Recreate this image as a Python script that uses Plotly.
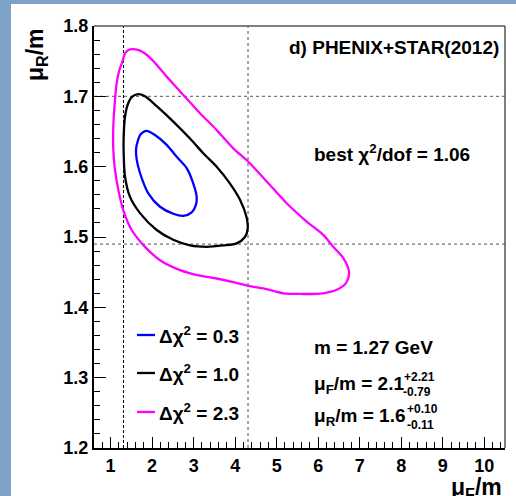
import plotly.graph_objects as go

# ---------------- data ----------------
# Delta chi^2 = 2.3 contour (magenta)
mag_muF = [1.547, 1.708, 1.949, 2.351, 2.751, 3.153, 3.555, 3.955, 4.317, 4.76, 5.241, 5.723,
           6.123, 6.364, 6.605, 6.742, 6.687, 6.486, 6.123, 5.562, 5.16, 4.76, 4.357, 3.955,
           3.555, 3.153, 2.672, 2.19, 1.829, 1.508, 1.306, 1.186, 1.106, 1.065, 1.065, 1.099,
           1.147, 1.21, 1.282, 1.347, 1.43, 1.547]
mag_muR = [1.767, 1.765, 1.755, 1.728, 1.702, 1.676, 1.652, 1.626, 1.607, 1.579, 1.548, 1.522,
           1.503, 1.486, 1.470, 1.451, 1.436, 1.426, 1.420, 1.419, 1.420, 1.426, 1.430, 1.436,
           1.441, 1.445, 1.453, 1.467, 1.486, 1.510, 1.538, 1.567, 1.595, 1.624, 1.657, 1.690,
           1.719, 1.737, 1.749, 1.761, 1.766, 1.767]
# Delta chi^2 = 1.0 contour (black)
blk_muF = [1.668, 1.829, 2.110, 2.51, 2.912, 3.233, 3.555, 3.876, 4.117, 4.27, 4.302, 4.237,
           4.037, 3.714, 3.314, 2.912, 2.51, 2.110, 1.708, 1.467, 1.347, 1.315, 1.315, 1.347,
           1.411, 1.508, 1.668]
blk_muR = [1.703, 1.700, 1.686, 1.664, 1.640, 1.619, 1.600, 1.576, 1.553, 1.529, 1.512, 1.500,
           1.491, 1.488, 1.486, 1.488, 1.496, 1.510, 1.534, 1.557, 1.586, 1.619, 1.643, 1.671,
           1.688, 1.699, 1.703]
# Delta chi^2 = 0.3 contour (blue)
blu_muF = [1.869, 2.069, 2.351, 2.592, 2.833, 2.992, 3.073, 3.057, 2.953, 2.751, 2.51, 2.19,
           1.908, 1.708, 1.629, 1.612, 1.652, 1.724, 1.869]
blu_muR = [1.651, 1.645, 1.631, 1.614, 1.598, 1.576, 1.557, 1.546, 1.535, 1.530, 1.533, 1.543,
           1.562, 1.591, 1.610, 1.624, 1.636, 1.646, 1.651]

contour_labels = ["0.3", "1.0", "2.3"]

best_muF, muF_up, muF_dn = 2.1, 2.21, 0.79
best_muR, muR_up, muR_dn = 1.6, 0.10, 0.11
mass_GeV = "1.27"
best_chi2_dof = "1.06"

x_range = [0.6, 10.5]
y_range = [1.2, 1.8]

# ---------------- layout geometry ----------------
W, H = 516, 496
L, R, T, B = 94, 505, 26, 448


def px(X):
    return (X - L) / (R - L)


def py(Y):
    return (B - Y) / (B - T)


FONT = "Liberation Sans, Arial, Helvetica, sans-serif"
BLUE_BG = "#7ea2c9"

fig = go.Figure()

# dashed best-fit bound lines
lo_F, hi_F = best_muF - muF_dn, best_muF + muF_up
lo_R, hi_R = best_muR - muR_dn, best_muR + muR_up
fig.add_trace(go.Scatter(x=[lo_F, lo_F], y=y_range, mode="lines",
                         line=dict(color="black", width=1, dash="3px,2px"),
                         showlegend=False, hoverinfo="skip"))
for xv in [hi_F]:
    fig.add_trace(go.Scatter(x=[xv, xv], y=y_range, mode="lines",
                             line=dict(color="#777777", width=1.3, dash="3px,3px"),
                             showlegend=False, hoverinfo="skip"))
for yv in [lo_R, hi_R]:
    fig.add_trace(go.Scatter(x=x_range, y=[yv, yv], mode="lines",
                             line=dict(color="#777777", width=1.3, dash="3px,3px"),
                             showlegend=False, hoverinfo="skip"))

colors = ["#0000ff", "#000000", "#ff00ff"]
for xs, ys, c in [(blu_muF, blu_muR, colors[0]), (blk_muF, blk_muR, colors[1]),
                  (mag_muF, mag_muR, colors[2])]:
    fig.add_trace(go.Scatter(x=xs, y=ys, mode="lines",
                             line=dict(color=c, width=2.3, shape="spline", smoothing=0.8),
                             showlegend=False, hoverinfo="skip"))

shapes = [
    # blue slide background strips (left and top), kept inside the page
    dict(type="rect", xref="paper", yref="paper", x0=px(0), x1=px(11), y0=py(H), y1=py(0),
         fillcolor=BLUE_BG, line=dict(width=0), layer="below"),
    dict(type="rect", xref="paper", yref="paper", x0=px(0), x1=px(W), y0=py(4), y1=py(0),
         fillcolor=BLUE_BG, line=dict(width=0), layer="below"),
    # top / right frame
    dict(type="line", xref="paper", yref="paper", x0=0, x1=1, y0=1, y1=1,
         line=dict(color="#555555", width=1.5), layer="above"),
    dict(type="line", xref="paper", yref="paper", x0=1, x1=1, y0=0, y1=1,
         line=dict(color="#555555", width=1.5), layer="above"),
]

annotations = []
# legend
leg_y = [335, 373, 412]
for lab, c, Y in zip(contour_labels, colors, leg_y):
    shapes.append(dict(type="line", xref="paper", yref="paper", x0=px(137), x1=px(155),
                       y0=py(Y), y1=py(Y), line=dict(color=c, width=2.3), layer="above"))
    annotations.append(dict(xref="paper", yref="paper", x=px(157), y=py(Y), xanchor="left",
                            yanchor="middle", showarrow=False,
                            text="<b>Δχ<sup>2</sup> = %s</b>" % lab,
                            font=dict(family=FONT, size=19, color="black")))

txt_font = dict(family=FONT, size=19, color="black")
small_font = dict(family=FONT, size=12, color="black")
annotations += [
    dict(xref="paper", yref="paper", x=px(501), y=py(47), xanchor="right", yanchor="middle",
         showarrow=False, text="<b>d) PHENIX+STAR(2012)</b>", font=txt_font),
    dict(xref="paper", yref="paper", x=px(312), y=py(153), xanchor="left", yanchor="middle",
         showarrow=False, text="<b>best χ<sup>2</sup>/dof = %s</b>" % best_chi2_dof, font=txt_font),
    dict(xref="paper", yref="paper", x=px(312), y=py(347), xanchor="left", yanchor="middle",
         showarrow=False, text="<b>m = %s GeV</b>" % mass_GeV, font=txt_font),
    dict(xref="paper", yref="paper", x=px(312), y=py(385), xanchor="left", yanchor="middle",
         showarrow=False, text="<b>μ<sub>F</sub>/m = %.1f</b>" % best_muF, font=txt_font),
    dict(xref="paper", yref="paper", x=px(402), y=py(377), xanchor="left", yanchor="middle",
         showarrow=False, text="<b>+%.2f</b>" % muF_up, font=small_font),
    dict(xref="paper", yref="paper", x=px(401), y=py(392), xanchor="left", yanchor="middle",
         showarrow=False, text="<b>-%.2f</b>" % muF_dn, font=small_font),
    dict(xref="paper", yref="paper", x=px(312), y=py(417), xanchor="left", yanchor="middle",
         showarrow=False, text="<b>μ<sub>R</sub>/m = %.1f</b>" % best_muR, font=txt_font),
    dict(xref="paper", yref="paper", x=px(405), y=py(409), xanchor="left", yanchor="middle",
         showarrow=False, text="<b>+%.2f</b>" % muR_up, font=small_font),
    dict(xref="paper", yref="paper", x=px(405), y=py(425), xanchor="left", yanchor="middle",
         showarrow=False, text="<b>-%.2f</b>" % muR_dn, font=small_font),
    # axis titles
    dict(xref="paper", yref="paper", x=px(504), y=py(472), xanchor="right", yanchor="top",
         showarrow=False, text="<b>μ<sub>F</sub>/m</b>", font=dict(family=FONT, size=23, color="black")),
    dict(xref="paper", yref="paper", x=px(36), y=py(55), xanchor="center", yanchor="middle",
         textangle=-90, showarrow=False, text="<b>μ<sub>R</sub>/m</b>",
         font=dict(family=FONT, size=23, color="black")),
]

fig.update_layout(
    width=W, height=H,
    margin=dict(l=L, r=W - R, t=T, b=H - B, pad=0),
    paper_bgcolor="white",
    plot_bgcolor="white",
    shapes=shapes,
    annotations=annotations,
    showlegend=False,
    xaxis=dict(range=x_range, showgrid=False, zeroline=False, showline=True, linecolor="black",
               linewidth=2, ticks="inside", ticklen=11, tickwidth=1.2, tickcolor="black",
               dtick=1, tick0=0, tickfont=dict(family=FONT, size=18, color="black", weight="bold"),
               minor=dict(dtick=0.2, tick0=0, ticks="inside", ticklen=6, tickwidth=1, tickcolor="black"),
               fixedrange=True),
    yaxis=dict(range=y_range, showgrid=False, zeroline=False, showline=True, linecolor="black",
               linewidth=2, ticks="inside", ticklen=12, tickwidth=1.2, tickcolor="black",
               dtick=0.1, tick0=1.2, tickformat=".1f",
               tickfont=dict(family=FONT, size=18, color="black", weight="bold"),
               minor=dict(dtick=0.02, tick0=1.2, ticks="inside", ticklen=6, tickwidth=1, tickcolor="black"),
               fixedrange=True),
)

fig.write_html(
    "out.html",
    config={"displayModeBar": False},
    post_script="document.documentElement.style.overflow='hidden';document.body.style.overflow='hidden';",
)
